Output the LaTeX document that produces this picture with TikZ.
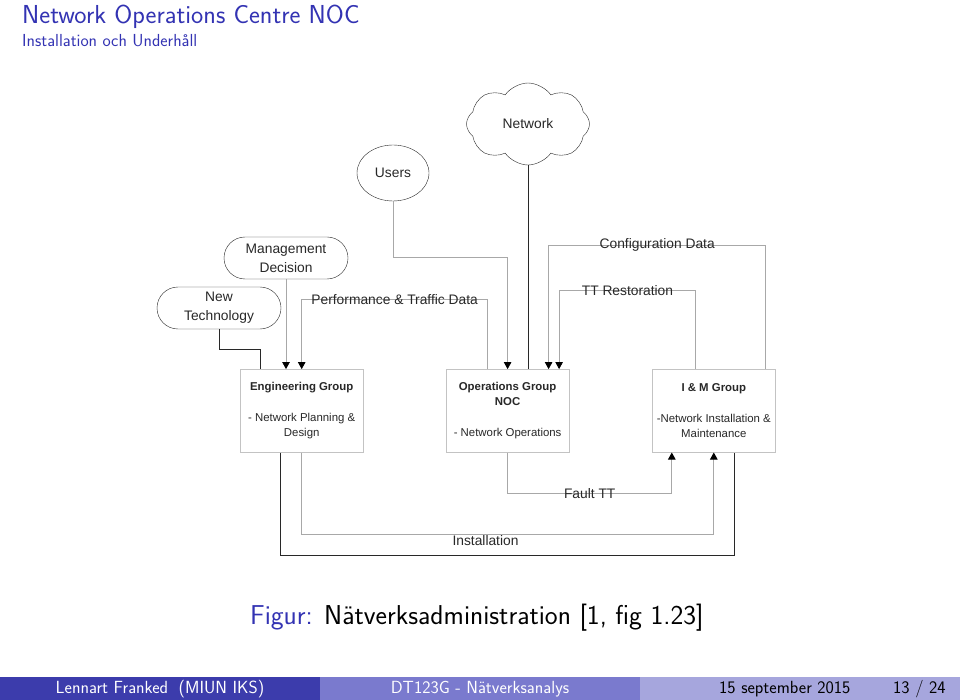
\documentclass[tikz,border=0pt]{standalone}
\usepackage{fontspec}
\newfontfamily\arial{Liberation Sans}
\usetikzlibrary{positioning,shapes.geometric,shapes.symbols,shapes.misc,arrows.meta}

\definecolor{beamerblue}{RGB}{51,51,179}
\definecolor{footleft}{RGB}{60,60,172}
\definecolor{footmid}{RGB}{122,122,206}
\definecolor{footright}{RGB}{166,166,221}
\definecolor{linegray}{RGB}{168,168,168}
\definecolor{boxgray}{RGB}{195,195,195}
\definecolor{inkdark}{RGB}{40,40,40}

\tikzset{
  diag/.style={font=\arial\fontsize{11.4}{15.5}\selectfont, text=inkdark},
  bigdiag/.style={font=\arial\fontsize{13.8}{17}\selectfont, text=inkdark},
  group/.style={diag, draw=boxgray, minimum width=123pt, minimum height=83pt, align=center, inner sep=0pt},
  terminal/.style={bigdiag, draw=inkdark, rounded rectangle, minimum width=124pt, minimum height=42pt, align=center, inner sep=0pt},
  feed/.style={draw=linegray, line width=0.8pt, -{Triangle[width=7.5pt,length=7pt,black]}},
  wire/.style={draw=inkdark, line width=0.8pt},
  flowlabel/.style={bigdiag, inner sep=0pt},
  slidetext/.style={font=\sffamily\fontsize{#1}{#1}\selectfont, inner sep=0pt, anchor=base west},
}

\begin{document}
\begin{tikzpicture}[x=1pt, y=-1pt]

  \useasboundingbox (0,0) rectangle (960,700);
  \fill[white] (0,0) rectangle (960,700);

  % slide title
  \node (title) [slidetext=26, text=beamerblue] at (22,24) {Network Operations Centre NOC};
  \node (subtitle) [slidetext=17.4, text=beamerblue] at (22,47) {Installation och Underhåll};

  % outer nodes
  \node (net) [bigdiag, cloud, cloud puffs=8, cloud puff arc=110, cloud ignores aspect, draw=inkdark, minimum width=123pt, minimum height=82pt] at (528,124) {Network};
  \node (users) [bigdiag, ellipse, draw=inkdark, minimum width=72pt, minimum height=56pt, inner sep=0pt] at (393,173) {Users};
  \node (mgmt) [terminal] at (286,258) {Management\\[2pt]Decision};
  \node (tech) [terminal] at (219,308) {New\\[2pt]Technology};

  % groups
  \node (eng) [group] at (301.7,410.8) {\textbf{Engineering Group}\\[15.5pt]- Network Planning \&\\Design};
  \node (ops) [group] at (507.6,410.8) {\textbf{Operations Group}\\\textbf{NOC}\\[15.5pt]- Network Operations};
  \node (img) [group] at (713.8,410.8) {\textbf{I \& M Group}\\[15.5pt]-Network Installation \&\\Maintenance};

  % connectors
  \draw[wire] (tech.south) -- ++(0,20) -| ([xshift=-41pt]eng.north);
  \draw[feed] (mgmt.south) -- (mgmt.south |- eng.north);
  \draw[feed] ([xshift=-20pt]ops.north) -- ++(0,-70) -| (eng.north)
    node [flowlabel, pos=0.25] {Performance \& Traffic Data};
  \draw[feed] (users.south) -- ++(0,56) -| (ops.north);
  \draw[wire] (net.south) -- (net.south |- ops.north);
  \draw[feed] ([xshift=52pt]img.north) -- ++(0,-124) -| ([xshift=41pt]ops.north)
    node [flowlabel, pos=0.25] {Configuration Data};
  \draw[feed] ([xshift=-18pt]img.north) -- ++(0,-79) -| ([xshift=51.5pt]ops.north)
    node [flowlabel, pos=0.25] {TT Restoration};
  \draw[feed] (ops.south) -- ++(0,41) -| ([xshift=-42pt]img.south)
    node [flowlabel, pos=0.25] {Fault TT};
  \draw[feed] (eng.south) -- ++(0,82) -| (img.south)
    node [flowlabel, pos=0.223, below=0.5pt] {Installation};
  \draw[wire] ([xshift=-21pt]eng.south) -- ++(0,103) -| ([xshift=21pt]img.south);

  % caption
  \node (caption) [slidetext=27.3] at (250,624) {\textcolor{beamerblue}{Figur:} Nätverksadministration [1, fig 1.23]};

  % footline
  \fill[footleft] (0,677) rectangle (320,700);
  \fill[footmid] (320,677) rectangle (640,700);
  \fill[footright] (640,677) rectangle (960,700);
  \node (author) [slidetext=17.6, text=white, anchor=base] at (160,693.5) {Lennart Franked\hspace{0.6em}(MIUN IKS)};
  \node (course) [slidetext=17.6, text=white, anchor=base] at (480,693.5) {DT123G - Nätverksanalys};
  \node (date) [slidetext=17.6, text=black] at (719,693.5) {15 september 2015};
  \node (page) [slidetext=17.6, text=black] at (893,693.5) {13 / 24};

\end{tikzpicture}
\end{document}
